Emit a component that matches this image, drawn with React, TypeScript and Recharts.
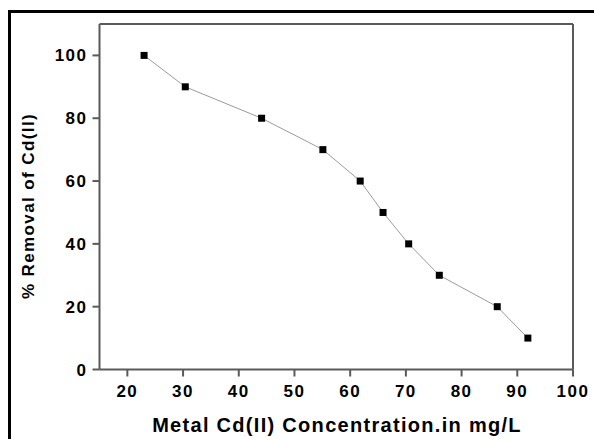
import React from "react";
import { LineChart, Line, XAxis, YAxis, ReferenceLine, Customized } from "recharts";

const concentration = [23.0, 30.4, 44.1, 55.1, 61.8, 65.9, 70.5, 76.0, 86.4, 91.9];
const removal = [100, 90, 80, 70, 60, 50, 40, 30, 20, 10];
const xTicks = [20, 30, 40, 50, 60, 70, 80, 90, 100];
const yTicks = [0, 20, 40, 60, 80, 100];
const xTitle = "Metal Cd(II) Concentration.in mg/L";
const yTitle = "% Removal of Cd(II)";

const data = concentration.map((c, i) => ({ x: c, y: removal[i] }));

const FONT = "'Liberation Sans', Arial, Helvetica, sans-serif";
const AXIS = "#5a5a5a";

const tickStyle = {
  fontFamily: FONT,
  fontWeight: 700,
  fontSize: 17,
  fill: "#000",
  letterSpacing: 1.5,
};

const SquareDot = (props: any) => {
  const { cx, cy, index } = props;
  if (cx == null || cy == null) return <g key={index} />;
  return <rect key={index} x={cx - 3.5} y={cy - 3.5} width={7} height={7} fill="#000" />;
};

const Titles = () => (
  <g>
    <text
      x={20}
      y={198}
      transform="rotate(-90, 20, 198)"
      textAnchor="middle"
      dominantBaseline="central"
      style={{ fontFamily: FONT, fontWeight: 700, fontSize: 17, letterSpacing: 1.4, fill: "#000" }}
    >
      {yTitle}
    </text>
    <text
      x={329}
      y={417}
      textAnchor="middle"
      dominantBaseline="central"
      style={{ fontFamily: FONT, fontWeight: 700, fontSize: 20, letterSpacing: 1.3, fill: "#000" }}
    >
      {xTitle}
    </text>
  </g>
);

export default function App() {
  return (
    <div style={{ position: "fixed", top: 0, left: 0, width: 594, height: 439, overflow: "hidden", background: "#fff" }}>
      <div style={{ position: "absolute", top: 10, left: 8, width: 586, height: 3, background: "#000" }} />
      <div style={{ position: "absolute", top: 10, left: 8, width: 3, height: 429, background: "#000" }} />
      <div style={{ position: "absolute", top: 8, left: 8 }}>
        <LineChart width={586} height={431} data={data} margin={{ top: 16, right: 21, left: 0, bottom: 0 }}>
          <XAxis
            dataKey="x"
            type="number"
            domain={[15, 100]}
            ticks={xTicks}
            allowDataOverflow
            height={69.5}
            tickSize={7}
            tickMargin={8}
            stroke={AXIS}
            strokeWidth={2}
            tick={tickStyle}
            tickLine={{ stroke: AXIS, strokeWidth: 2 }}
          />
          <YAxis
            dataKey="y"
            type="number"
            domain={[0, 110]}
            ticks={yTicks}
            allowDataOverflow
            width={91.5}
            tickSize={7}
            tickMargin={5}
            stroke={AXIS}
            strokeWidth={2}
            tick={tickStyle}
            tickLine={{ stroke: AXIS, strokeWidth: 2 }}
          />
          <ReferenceLine y={110} stroke={AXIS} strokeWidth={2} ifOverflow="visible" />
          <ReferenceLine x={100} stroke={AXIS} strokeWidth={2} ifOverflow="visible" />
          <Line
            dataKey="y"
            stroke="#9a9a9a"
            strokeWidth={1}
            dot={SquareDot}
            activeDot={false}
            isAnimationActive={false}
          />
          <Customized component={Titles} />
        </LineChart>
      </div>
    </div>
  );
}
